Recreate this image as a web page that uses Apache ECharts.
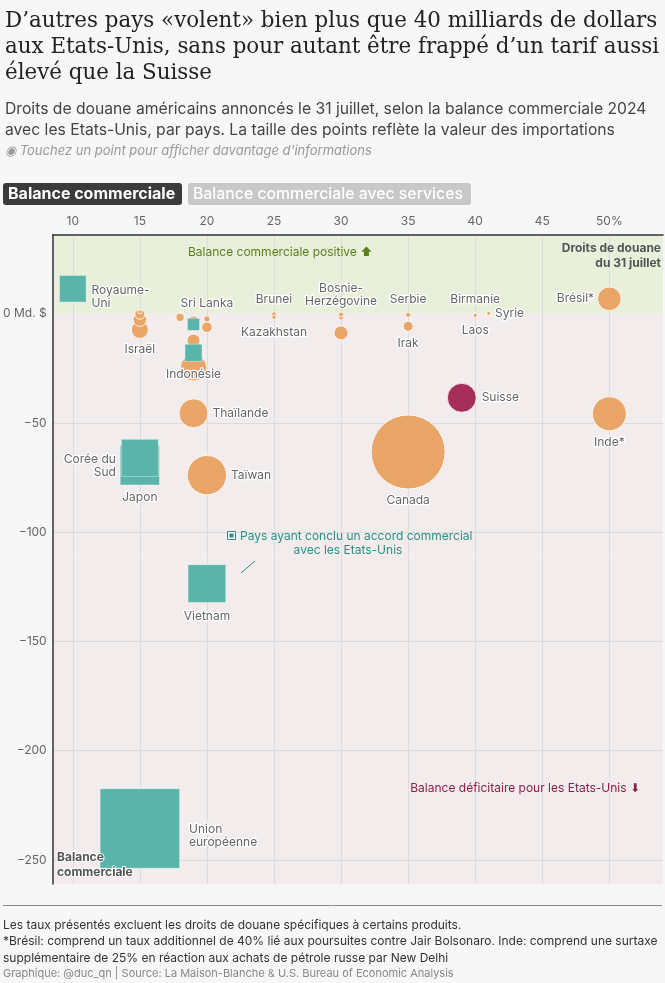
<!DOCTYPE html>
<html><head><meta charset="utf-8">
<script src="https://cdn.jsdelivr.net/npm/echarts@6/dist/echarts.min.js"></script>
<style>html,body{margin:0;padding:0;background:#f7f7f7}#c{width:665px;height:983px}</style>
</head><body><div id="c"></div>
<script>
// ---- data (tariff %, 2024 goods balance in bn $, imports in bn $, trade deal) ----
const names    = ['Canada','Taïwan','Inde*','Thaïlande','Suisse','Malaisie','Brésil*','Israël','Afrique du Sud','Cambodge','Bangladesh','Irak','Pakistan','Nicaragua','Sri Lanka','Kazakhstan','Brunei','Algérie','Bosnie-Herzégovine','Serbie','Birmanie','Laos','Syrie','Turquie','Norvège','Islande'];
const tariffs  = [35, 20, 50, 19, 39, 19, 50, 15, 30, 19, 20, 35, 19, 18, 20, 25, 25, 30, 30, 35, 40, 40, 41, 15, 15, 15];
const balances = [-63.3, -73.9, -45.8, -45.6, -38.5, -24.8, 6.8, -7.4, -8.8, -12.3, -6.2, -5.8, -3.0, -1.7, -2.4, -1.6, -0.3, -1.8, -0.4, -0.5, -0.7, -0.8, 0.1, -2.7, -0.3, 0.8];
const imports  = [412, 116, 87, 63, 63, 52.5, 42, 22, 14.7, 12.7, 8.4, 7.4, 5.1, 5.0, 3.0, 1.5, 1.9, 1.9, 1.9, 1.9, 1.9, 0.8, 0.01, 14, 7.5, 0.3];

const dealNames    = ['Union européenne','Japon','Vietnam','Corée du Sud','Royaume-Uni','Indonésie','Philippines'];
const dealTariffs  = [15, 15, 20, 15, 10, 19, 19];
const dealBalances = [-235.6, -69.4, -123.5, -66.0, 11.4, -17.9, -4.9];
const dealImports  = [605.8, 148.2, 136.6, 131.5, 68.1, 28.1, 14.2];

const xTicks = [10, 15, 20, 25, 30, 35, 40, 45, 50];
const yTicks = [0, -50, -100, -150, -200, -250];

// ---- styles ----
const ORANGE = '#e9a668', TEAL = '#5ab4aa', CRIMSON = '#a62f5a';
const FONT = 'Inter, Roboto, sans-serif';
const labelCfg = {
  'Canada': {position:'bottom', distance:5},
  'Taïwan': {position:'right', distance:4},
  'Inde*': {position:'bottom', distance:5},
  'Thaïlande': {position:'right', distance:4},
  'Suisse': {position:'right', distance:5},
  'Brésil*': {position:'left', distance:3},
  'Israël': {position:'bottom', distance:4},
  'Irak': {position:'bottom', distance:5},
  'Sri Lanka': {position:'top', distance:5},
  'Kazakhstan': {position:'bottom', distance:6},
  'Brunei': {position:'top', distance:6},
  'Bosnie-Herzégovine': {position:'top', distance:4, text:'Bosnie-\nHerzégovine'},
  'Serbie': {position:'top', distance:6},
  'Birmanie': {position:'top', distance:6},
  'Laos': {position:'bottom', distance:6},
  'Syrie': {position:'right', distance:4},
  'Union européenne': {position:'right', distance:9, text:'Union\neuropéenne', offset:[0,7]},
  'Japon': {position:'bottom', distance:6},
  'Vietnam': {position:'bottom', distance:7},
  'Corée du Sud': {position:'left', distance:5, text:'Corée du\nSud', offset:[0,8]},
  'Royaume-Uni': {position:'right', distance:5, text:'Royaume-\nUni', offset:[0,8]},
  'Indonésie': {position:'bottom', distance:6}
};
const K = 74 / Math.sqrt(412);
const circleSize = v => Math.max(4, K * Math.sqrt(v));
const squareSize = v => Math.max(4, K * Math.sqrt(v) * Math.sqrt(Math.PI) / 2);

function buildData(ns, xs, ys, ims) {
  const rows = ns.map((n, i) => ({n, x: xs[i], y: ys[i], im: ims[i]}));
  rows.sort((a, b) => b.im - a.im);
  return rows.map(r => {
    const cfg = labelCfg[r.n];
    const item = {name: r.n, value: [r.x, r.y, r.im]};
    if (cfg) {
      item.label = {show: true, position: cfg.position, distance: cfg.distance,
        offset: cfg.offset || [0, 0], formatter: cfg.text || r.n};
    }
    if (r.n === 'Suisse') item.itemStyle = {color: CRIMSON};
    return item;
  });
}

const baseLabel = {show: false, color: '#666', fontSize: 12, fontFamily: FONT,
  textBorderColor: '#fff', textBorderWidth: 2.5, lineHeight: 13};

const chart = echarts.init(document.getElementById('c'), null, {renderer: 'canvas'});
const option = {
  backgroundColor: '#f7f7f7',
  animation: false,
  grid: {left: 51.5, right: 2, top: 235, bottom: 99, containLabel: false},
  xAxis: {
    type: 'value', position: 'top', min: 8.5, max: 54, z: 10,
    axisLine: {show: true, onZero: false, lineStyle: {color: '#333', width: 1.5}},
    axisTick: {show: false},
    splitLine: {show: false},
    axisLabel: {customValues: xTicks, color: '#666', fontSize: 12, fontFamily: FONT, margin: 8,
      formatter: v => v === 50 ? '50%' : String(v)}
  },
  yAxis: {
    type: 'value', min: -261, max: 36, z: 10,
    axisLine: {show: true, onZero: false, lineStyle: {color: '#333', width: 1.5}},
    axisTick: {show: false},
    splitLine: {show: false},
    axisLabel: {customValues: yTicks, color: '#666', fontSize: 12, fontFamily: FONT, margin: 6,
      formatter: v => v === 0 ? '0 Md. $' : '\u2212' + Math.abs(v)}
  },
  series: [
    {
      type: 'scatter', data: [], silent: true, z: 1,
      markArea: {silent: true, z: 0, data: [
        [{yAxis: 0, itemStyle: {color: '#e8efda'}}, {yAxis: 36}],
        [{yAxis: -261, itemStyle: {color: '#f2ecec'}}, {yAxis: 0}]
      ]},
      markLine: {silent: true, z: 1, symbol: 'none', label: {show: false},
        lineStyle: {color: '#dcdcdc', width: 1, type: 'solid'},
        emphasis: {disabled: true},
        data: xTicks.map(v => ({xAxis: v})).concat(yTicks.filter(v => v !== 0).map(v => ({yAxis: v})))}
    },
    {
      type: 'scatter', name: 'sans accord', z: 3,
      symbol: 'circle',
      symbolSize: v => circleSize(v[2]),
      itemStyle: {color: ORANGE, borderColor: '#fff', borderWidth: 0.8, opacity: 1},
      label: baseLabel,
      emphasis: {disabled: true},
      data: buildData(names, tariffs, balances, imports)
    },
    {
      type: 'scatter', name: 'accord', z: 4,
      symbol: 'rect',
      symbolSize: v => squareSize(v[2]),
      itemStyle: {color: TEAL, borderColor: 'rgba(255,255,255,0.5)', borderWidth: 0.8, opacity: 1},
      label: baseLabel,
      emphasis: {disabled: true},
      data: buildData(dealNames, dealTariffs, dealBalances, dealImports)
    }
  ],
  graphic: [
    {type: 'text', left: 5, top: 8, style: {text: 'D’autres pays «volent» bien plus que 40 milliards de dollars\naux Etats-Unis, sans pour autant être frappé d’un tarif aussi\nélevé que la Suisse',
      font: '21.4px "DejaVu Serif", serif', fill: '#222', lineHeight: 26}},
    {type: 'text', left: 5, top: 99, style: {text: 'Droits de douane américains annoncés le 31 juillet, selon la balance commerciale 2024\navec les Etats-Unis, par pays. La taille des points reflète la valeur des importations',
      font: '15.7px Inter, sans-serif', fill: '#444', lineHeight: 21}},
    {type: 'text', left: 5, top: 145, style: {text: '◉ Touchez un point pour afficher davantage d\'informations',
      font: 'italic 13px Inter, sans-serif', fill: '#999'}},
    {type: 'rect', shape: {x: 3, y: 183, width: 179, height: 22, r: 3}, style: {fill: '#3b3b3b'}},
    {type: 'text', x: 8, y: 194, style: {text: 'Balance commerciale', font: 'bold 16px Inter, sans-serif', fill: '#fff', textVerticalAlign: 'middle'}},
    {type: 'rect', shape: {x: 188, y: 183, width: 283, height: 22, r: 3}, style: {fill: '#c8c8c8'}},
    {type: 'text', x: 193, y: 194, style: {text: 'Balance commerciale avec services', font: '500 15.8px Inter, sans-serif', fill: '#fff', textVerticalAlign: 'middle'}},

    {type: 'text', x: 188, y: 252, z: 10, style: {text: 'Balance commerciale positive ⬆', font: '12px Inter, "DejaVu Sans", sans-serif', fill: '#5b7f1c', textVerticalAlign: 'middle'}},
    {type: 'text', x: 661, y: 241, z: 10, style: {text: 'Droits de douane\ndu 31 juillet', font: 'bold 12px Inter, sans-serif', fill: '#555', textAlign: 'right', textVerticalAlign: 'top', lineHeight: 15}},
    {type: 'text', x: 57, y: 850, z: 10, style: {text: 'Balance\ncommerciale', font: 'bold 12px Inter, sans-serif', fill: '#555', lineHeight: 15, stroke: 'rgba(255,255,255,0.85)', lineWidth: 2}},
    {type: 'text', x: 640, y: 788, z: 10, style: {text: 'Balance déficitaire pour les Etats-Unis ⬇', font: '12px Inter, "DejaVu Sans", sans-serif', fill: '#8e1f45', textAlign: 'right', textVerticalAlign: 'middle'}},
    {type: 'rect', shape: {x: 227.5, y: 531.5, width: 8, height: 8}, z: 10, style: {fill: '#fff', stroke: '#2a9184', lineWidth: 1}},
    {type: 'rect', shape: {x: 229.5, y: 533.5, width: 4, height: 4}, z: 10, style: {fill: '#2a9184'}},
    {type: 'text', x: 240, y: 536, z: 10, style: {text: 'Pays ayant conclu un accord commercial', font: '12px Inter, sans-serif', fill: '#2a9184', textVerticalAlign: 'middle'}},
    {type: 'text', x: 348, y: 550, z: 10, style: {text: 'avec les Etats-Unis', font: '12px Inter, sans-serif', fill: '#2a9184', textAlign: 'center', textVerticalAlign: 'middle'}},
    {type: 'line', shape: {x1: 241, y1: 573, x2: 255, y2: 561}, z: 10, style: {stroke: '#2a9184', lineWidth: 1}},

    {type: 'line', shape: {x1: 3, y1: 905.5, x2: 662, y2: 905.5}, style: {stroke: '#888', lineWidth: 1}},
    {type: 'text', left: 3, top: 917, style: {text: 'Les taux présentés excluent les droits de douane spécifiques à certains produits.\n*Brésil: comprend un taux additionnel de 40% lié aux poursuites contre Jair Bolsonaro. Inde: comprend une surtaxe\nsupplémentaire de 25% en réaction aux achats de pétrole russe par New Delhi',
      font: '12px Inter, sans-serif', fill: '#333', lineHeight: 16.5}},
    {type: 'text', left: 3, top: 968, style: {text: 'Graphique: @duc_qn | Source: La Maison-Blanche & U.S. Bureau of Economic Analysis',
      font: '11px Inter, sans-serif', fill: '#888'}}
  ]
};
chart.setOption(option);
</script></body></html>
